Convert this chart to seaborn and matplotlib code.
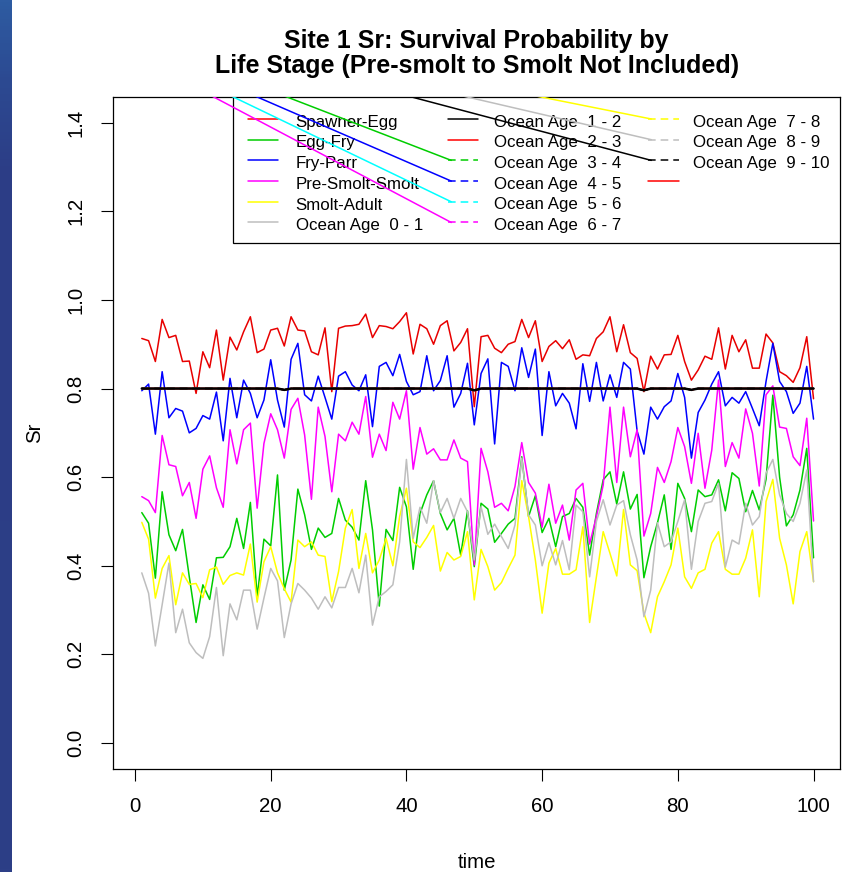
import numpy as np
import pandas as pd
import matplotlib
matplotlib.use("Agg")
import matplotlib.pyplot as plt
import seaborn as sns
from matplotlib.lines import Line2D
from matplotlib.patches import Rectangle
from matplotlib.colors import LinearSegmentedColormap

# ---------------- data ----------------
time = list(range(1, 101))

spawner_egg = [
    0.913, 0.908, 0.861, 0.956, 0.915, 0.920, 0.861, 0.862, 0.789, 0.883,
    0.847, 0.932, 0.819, 0.916, 0.887, 0.928, 0.962, 0.881, 0.889, 0.932,
    0.936, 0.896, 0.962, 0.932, 0.930, 0.883, 0.876, 0.937, 0.793, 0.936,
    0.941, 0.942, 0.945, 0.968, 0.915, 0.942, 0.940, 0.935, 0.951, 0.971,
    0.878, 0.945, 0.935, 0.900, 0.942, 0.953, 0.885, 0.904, 0.935, 0.759,
    0.917, 0.920, 0.891, 0.881, 0.900, 0.906, 0.956, 0.915, 0.953, 0.861,
    0.895, 0.908, 0.890, 0.910, 0.866, 0.876, 0.874, 0.913, 0.928, 0.962,
    0.883, 0.944, 0.881, 0.868, 0.793, 0.873, 0.844, 0.876, 0.877, 0.920,
    0.861, 0.819, 0.842, 0.873, 0.866, 0.937, 0.844, 0.920, 0.883, 0.910,
    0.846, 0.846, 0.923, 0.903, 0.838, 0.829, 0.814, 0.847, 0.917, 0.777]

egg_fry = [
    0.520, 0.496, 0.372, 0.567, 0.470, 0.434, 0.482, 0.375, 0.272, 0.357,
    0.324, 0.418, 0.419, 0.443, 0.507, 0.439, 0.543, 0.330, 0.460, 0.445,
    0.605, 0.345, 0.413, 0.573, 0.515, 0.437, 0.485, 0.464, 0.473, 0.552,
    0.503, 0.487, 0.458, 0.592, 0.481, 0.309, 0.482, 0.457, 0.577, 0.533,
    0.392, 0.518, 0.560, 0.592, 0.518, 0.481, 0.507, 0.424, 0.524, 0.398,
    0.541, 0.528, 0.453, 0.473, 0.494, 0.507, 0.646, 0.511, 0.558, 0.475,
    0.507, 0.443, 0.511, 0.518, 0.552, 0.532, 0.424, 0.518, 0.594, 0.612,
    0.539, 0.612, 0.528, 0.561, 0.373, 0.443, 0.497, 0.560, 0.437, 0.586,
    0.552, 0.477, 0.571, 0.556, 0.560, 0.594, 0.524, 0.610, 0.597, 0.522,
    0.570, 0.526, 0.595, 0.785, 0.600, 0.490, 0.515, 0.571, 0.665, 0.418]

fry_parr = [
    0.795, 0.810, 0.697, 0.838, 0.734, 0.755, 0.749, 0.700, 0.710, 0.739,
    0.731, 0.792, 0.682, 0.823, 0.734, 0.819, 0.789, 0.734, 0.774, 0.865,
    0.774, 0.713, 0.866, 0.902, 0.786, 0.772, 0.828, 0.780, 0.731, 0.828,
    0.838, 0.808, 0.795, 0.831, 0.714, 0.850, 0.859, 0.829, 0.877, 0.816,
    0.786, 0.793, 0.874, 0.795, 0.818, 0.874, 0.758, 0.789, 0.857, 0.718,
    0.834, 0.867, 0.675, 0.859, 0.850, 0.795, 0.892, 0.825, 0.889, 0.694,
    0.838, 0.761, 0.789, 0.767, 0.709, 0.856, 0.771, 0.859, 0.772, 0.831,
    0.780, 0.859, 0.844, 0.704, 0.652, 0.758, 0.731, 0.759, 0.772, 0.834,
    0.780, 0.643, 0.746, 0.774, 0.810, 0.838, 0.761, 0.780, 0.767, 0.793,
    0.755, 0.716, 0.816, 0.902, 0.816, 0.793, 0.744, 0.767, 0.850, 0.731]

presmolt_smolt = [
    0.556, 0.547, 0.520, 0.694, 0.628, 0.624, 0.558, 0.588, 0.507, 0.618,
    0.648, 0.576, 0.532, 0.707, 0.630, 0.707, 0.722, 0.530, 0.676, 0.743,
    0.707, 0.643, 0.753, 0.778, 0.695, 0.550, 0.758, 0.692, 0.567, 0.697,
    0.682, 0.724, 0.697, 0.782, 0.645, 0.697, 0.660, 0.769, 0.731, 0.795,
    0.618, 0.712, 0.652, 0.664, 0.639, 0.639, 0.684, 0.643, 0.635, 0.402,
    0.665, 0.612, 0.532, 0.541, 0.524, 0.579, 0.678, 0.588, 0.564, 0.487,
    0.584, 0.496, 0.537, 0.458, 0.571, 0.586, 0.449, 0.511, 0.582, 0.758,
    0.588, 0.758, 0.646, 0.707, 0.467, 0.518, 0.622, 0.588, 0.635, 0.712,
    0.669, 0.586, 0.699, 0.575, 0.661, 0.819, 0.624, 0.678, 0.643, 0.754,
    0.699, 0.580, 0.786, 0.806, 0.713, 0.710, 0.646, 0.626, 0.733, 0.501]

smolt_adult = [
    0.498, 0.460, 0.327, 0.394, 0.423, 0.312, 0.384, 0.358, 0.360, 0.328,
    0.391, 0.397, 0.358, 0.378, 0.384, 0.379, 0.449, 0.318, 0.409, 0.443,
    0.384, 0.348, 0.318, 0.458, 0.443, 0.454, 0.424, 0.421, 0.319, 0.387,
    0.485, 0.527, 0.394, 0.473, 0.384, 0.413, 0.462, 0.400, 0.511, 0.575,
    0.454, 0.441, 0.464, 0.491, 0.388, 0.430, 0.413, 0.421, 0.477, 0.323,
    0.437, 0.398, 0.345, 0.362, 0.394, 0.424, 0.592, 0.511, 0.413, 0.293,
    0.406, 0.439, 0.381, 0.381, 0.391, 0.488, 0.272, 0.375, 0.477, 0.428,
    0.377, 0.527, 0.402, 0.389, 0.293, 0.249, 0.330, 0.364, 0.402, 0.485,
    0.375, 0.349, 0.384, 0.392, 0.451, 0.477, 0.392, 0.381, 0.381, 0.417,
    0.481, 0.330, 0.545, 0.595, 0.462, 0.402, 0.314, 0.432, 0.477, 0.364]

ocean_0_1 = [
    0.384, 0.338, 0.219, 0.312, 0.406, 0.249, 0.302, 0.226, 0.204, 0.191,
    0.240, 0.351, 0.197, 0.314, 0.278, 0.345, 0.345, 0.257, 0.327, 0.394,
    0.366, 0.238, 0.314, 0.360, 0.345, 0.327, 0.302, 0.330, 0.305, 0.351,
    0.351, 0.394, 0.339, 0.424, 0.266, 0.330, 0.342, 0.357, 0.454, 0.640,
    0.462, 0.532, 0.496, 0.592, 0.520, 0.552, 0.507, 0.552, 0.522, 0.413,
    0.533, 0.471, 0.494, 0.466, 0.439, 0.492, 0.643, 0.515, 0.492, 0.400,
    0.452, 0.402, 0.457, 0.391, 0.537, 0.522, 0.375, 0.500, 0.549, 0.492,
    0.537, 0.547, 0.470, 0.413, 0.285, 0.345, 0.497, 0.443, 0.454, 0.500,
    0.549, 0.392, 0.500, 0.541, 0.545, 0.586, 0.397, 0.458, 0.449, 0.541,
    0.492, 0.511, 0.609, 0.640, 0.560, 0.518, 0.500, 0.541, 0.616, 0.364]

# later ocean ages all sit on the 0.8 plateau
ocean_plateau = [
    0.800, 0.800, 0.800, 0.800, 0.800, 0.800, 0.800, 0.800, 0.800, 0.800,
    0.800, 0.800, 0.800, 0.800, 0.800, 0.800, 0.800, 0.800, 0.800, 0.800,
    0.800, 0.797, 0.800, 0.800, 0.800, 0.800, 0.800, 0.800, 0.800, 0.800,
    0.800, 0.800, 0.800, 0.800, 0.800, 0.800, 0.800, 0.800, 0.800, 0.800,
    0.800, 0.800, 0.800, 0.800, 0.800, 0.800, 0.800, 0.800, 0.800, 0.796,
    0.800, 0.800, 0.800, 0.800, 0.800, 0.800, 0.800, 0.800, 0.800, 0.800,
    0.800, 0.800, 0.800, 0.800, 0.800, 0.800, 0.800, 0.800, 0.800, 0.800,
    0.800, 0.800, 0.800, 0.800, 0.796, 0.800, 0.800, 0.800, 0.800, 0.800,
    0.800, 0.797, 0.800, 0.800, 0.800, 0.800, 0.800, 0.800, 0.800, 0.800,
    0.800, 0.800, 0.800, 0.800, 0.800, 0.800, 0.800, 0.800, 0.800, 0.800]

labels = ["Spawner-Egg", "Egg-Fry", "Fry-Parr", "Pre-Smolt-Smolt", "Smolt-Adult",
          "Ocean Age  0 - 1", "Ocean Age  1 - 2", "Ocean Age  2 - 3",
          "Ocean Age  3 - 4", "Ocean Age  4 - 5", "Ocean Age  5 - 6",
          "Ocean Age  6 - 7", "Ocean Age  7 - 8", "Ocean Age  8 - 9",
          "Ocean Age  9 - 10", ""]
colors = ["#FF0000", "#00CD00", "#0000FF", "#FF00FF", "#FFFF00", "#BEBEBE",
          "#000000", "#FF0000", "#00CD00", "#0000FF", "#00FFFF", "#FF00FF",
          "#FFFF00", "#BEBEBE", "#000000", "#FF0000"]
dashed = [False] * 8 + [True] * 7 + [False]

# ---------------- styling ----------------
sns.set_theme(style="ticks")
plt.rcParams['font.family'] = ['Liberation Sans', 'DejaVu Sans']
plt.rcParams['lines.scale_dashes'] = False
plt.rcParams['text.color'] = 'black'
plt.rcParams['axes.labelcolor'] = 'black'
plt.rcParams['xtick.color'] = 'black'
plt.rcParams['ytick.color'] = 'black'

W, H = 846, 872
def fx(px):
    return px / W
def fy(py):
    return 1 - py / H

DASH = (0, (5.5, 3.6))
LW = 1.1

fig = plt.figure(figsize=(W / 100, H / 100), dpi=100)
fig.patch.set_facecolor("white")

# decorative blue bar at the left edge
bar = fig.add_axes([0, 0, 11.7 / W, 1])
cmap = LinearSegmentedColormap.from_list(
    "bar", [(0, "#2E5CA2"), (0.09, "#2C4A92"), (0.2, "#2C3D86"), (1, "#2D3F87")])
bar.imshow(np.linspace(0, 1, 256).reshape(-1, 1), aspect="auto", cmap=cmap)
bar.axis("off")

ax = fig.add_axes([fx(113.3), fy(769), fx(840) - fx(113.3), fy(97) - fy(769)])
ax.set_facecolor("white")

# ---------------- data lines ----------------
series = [
    (labels[0], spawner_egg, "#E80000", "-", 2),
    (labels[1], egg_fry, colors[1], "-", 3),
    (labels[2], fry_parr, colors[2], "-", 4),
    (labels[3], presmolt_smolt, colors[3], "-", 5),
    (labels[4], smolt_adult, colors[4], "-", 6),
    (labels[5], ocean_0_1, colors[5], "-", 7),
]
for k in range(7, 16):
    series.append((labels[k] if labels[k] else "extra", ocean_plateau,
                   colors[k], DASH if dashed[k] else "-", 8))
series.append((labels[6], ocean_plateau, "#000000", "-", 9))

frames = []
for name, vals, col, ls, z in series:
    frames.append(pd.DataFrame({"time": time, "Sr": vals, "series": name}))
df = pd.concat(frames, ignore_index=True)

for name, vals, col, ls, z in series:
    sub = df[df["series"] == name]
    lw = 1.8 if (name == labels[6]) else LW
    sns.lineplot(data=sub, x="time", y="Sr", color=col, linestyle=ls,
                 linewidth=lw, estimator=None, sort=False, ax=ax,
                 zorder=z, legend=False)

ax.set_xlim(-3.2, 103.9)
ax.set_ylim(-0.0587, 1.458)
ax.set_xticks([0, 20, 40, 60, 80, 100])
ax.set_xticklabels(["0", "20", "40", "60", "80", "100"])
yt = [0.0, 0.2, 0.4, 0.6, 0.8, 1.0, 1.2, 1.4]
ax.set_yticks(yt)
ax.set_yticklabels([f"{v:.1f}" for v in yt])
ax.tick_params(direction="out", length=8.6, width=0.8, pad=11.3,
               labelsize=14.7, colors="black")
for lab in ax.get_yticklabels():
    lab.set_rotation(90)
    lab.set_va("center")
for s in ax.spines.values():
    s.set_visible(True)
    s.set_linewidth(0.9)
    s.set_color("black")
ax.grid(False)

ax.set_xlabel("time", fontsize=14.7, va="baseline", color="black")
ax.xaxis.set_label_coords(0.5, (769 - 868) / 672)
ax.set_ylabel("Sr", fontsize=14.7, va="baseline", rotation_mode="anchor",
              color="black")
ax.yaxis.set_label_coords((40 - 113.3) / 726.7, 0.5)

# ---------------- title ----------------
fig.text(fx(476.7), fy(48), "Site 1 Sr: Survival Probability by",
         ha="center", va="baseline", fontsize=18, fontweight="bold",
         color="black")
fig.text(fx(476.7), fy(73), "Life Stage (Pre-smolt to Smolt Not Included)",
         ha="center", va="baseline", fontsize=18, fontweight="bold",
         color="black")

# ---------------- legend (R style, drawn by hand) ----------------
tf = fig.transFigure
box = Rectangle((fx(233), fy(242.7)), fx(840) - fx(233), fy(97) - fy(242.7),
                transform=tf, facecolor="white", edgecolor="black",
                linewidth=0.9, zorder=20)
ax.add_patch(box)

key_x0 = [248.3, 448.3, 648.3]
key_x1 = [278.3, 478.3, 679.3]
text_x = [295.7, 494.0, 693.3]
base0, step = 126.7, 20.7
origin = (15.0, -8.0)

for i, (lab, col, dsh) in enumerate(zip(labels, colors, dashed)):
    c, r = divmod(i, 6)
    base = base0 + step * r
    ky = base - 7.7
    ln = Line2D([fx(key_x0[c]), fx(key_x1[c])], [fy(ky), fy(ky)], transform=tf,
                color=col, linewidth=LW, linestyle=DASH if dsh else "-", zorder=22)
    ax.add_line(ln)
    if dsh:
        diag = Line2D([fx(origin[0]), fx(key_x0[c] + 3)], [fy(origin[1]), fy(ky)],
                      transform=tf, color=col, linewidth=LW, zorder=23)
        ax.add_line(diag)
    if lab:
        ax.text(fx(text_x[c]), fy(base), lab, transform=tf, fontsize=12.2,
                ha="left", va="baseline", zorder=21, color="black")

fig.savefig("out.png", dpi=100, facecolor="white")
